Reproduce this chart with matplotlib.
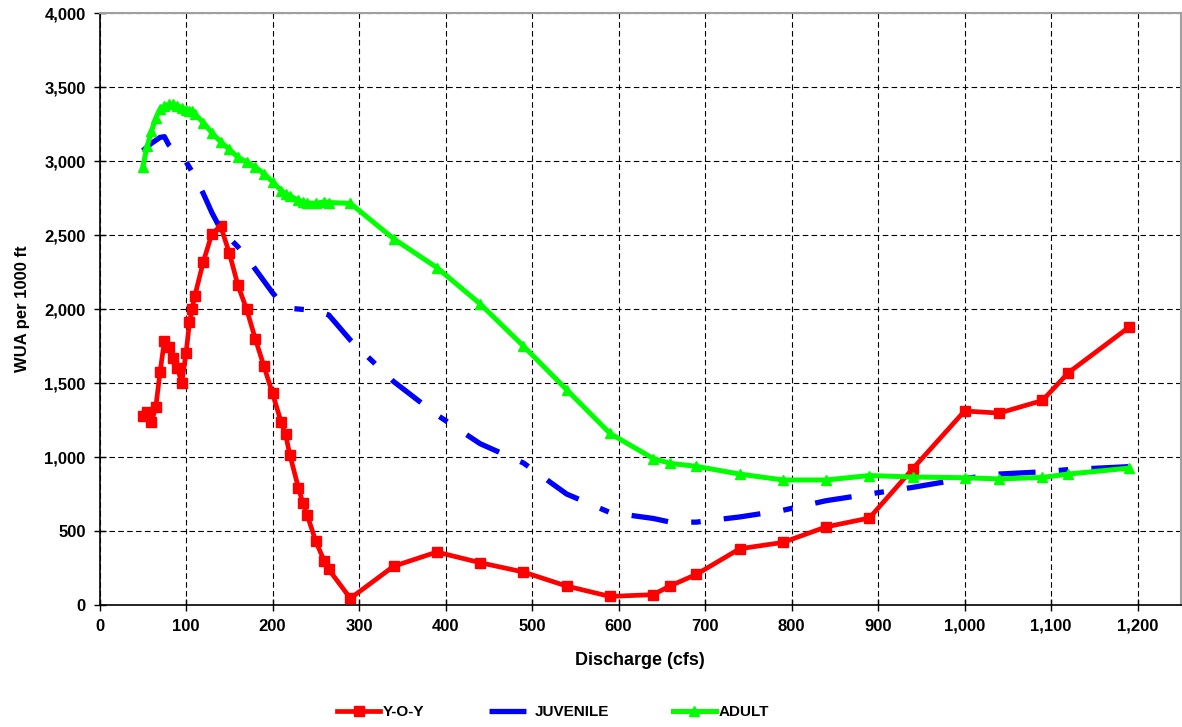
import matplotlib.pyplot as plt
from matplotlib.ticker import FuncFormatter, MultipleLocator

# ==========================================================
# DONNÉES
# ==========================================================

# Débit (cfs) pour Y-O-Y et ADULT
discharge = [50, 55, 60, 65, 70, 75, 80, 85, 90, 95, 100, 104, 107, 110, 120,
             130, 140, 150, 160, 170, 180, 190, 200, 210, 215, 220, 230, 235,
             240, 250, 260, 265, 290, 340, 390, 440, 490, 540, 590, 640, 660,
             690, 740, 790, 840, 890, 940, 1000, 1040, 1090, 1120, 1190]

wua_yoy = [1280, 1305, 1240, 1335, 1575, 1785, 1745, 1670, 1605, 1500, 1700,
           1910, 2000, 2085, 2320, 2510, 2560, 2380, 2160, 2000, 1800, 1615,
           1430, 1235, 1155, 1015, 790, 690, 610, 430, 295, 240, 45, 262, 358,
           286, 223, 128, 58, 70, 130, 207, 380, 423, 528, 588, 920, 1311,
           1297, 1382, 1570, 1877]

wua_adult = [2960, 3100, 3200, 3290, 3350, 3370, 3385, 3385, 3375, 3360, 3345,
             3340, 3335, 3320, 3260, 3190, 3130, 3080, 3025, 2995, 2960, 2915,
             2860, 2800, 2780, 2765, 2735, 2725, 2718, 2714, 2725, 2720, 2714,
             2475, 2280, 2035, 1750, 1455, 1160, 990, 957, 937, 885, 845, 845,
             875, 865, 860, 852, 862, 885, 925]

# Débit (cfs) et WUA pour JUVENILE
discharge_juv = [50, 60, 70, 75, 80, 90, 100, 110, 120, 130, 140, 150, 160,
                 170, 180, 190, 200, 210, 220, 240, 260, 265, 290, 340, 390,
                 440, 490, 540, 590, 640, 660, 690, 740, 790, 840, 890, 940,
                 1000, 1040, 1090, 1120, 1190]

wua_juv = [3070, 3120, 3160, 3165, 3110, 3050, 2995, 2900, 2780, 2650, 2540,
           2480, 2420, 2350, 2270, 2190, 2110, 2040, 2005, 1995, 1970, 1960,
           1790, 1510, 1285, 1090, 960, 750, 625, 585, 560, 560, 595, 640, 705,
           750, 795, 855, 885, 900, 915, 935]

# ==========================================================
# FIGURE
# ==========================================================

plt.rcParams['font.family'] = ['Liberation Sans', 'DejaVu Sans']
plt.rcParams['font.weight'] = 'bold'

fig = plt.figure(figsize=(11.82, 7.27), dpi=100)
ax = fig.add_axes([0.0842, 0.1678, 0.9148, 0.8142])

ax.plot(discharge, wua_yoy, color='#ff0000', marker='s', markersize=7,
        linewidth=3.4, label='Y-O-Y', zorder=3)
ax.plot(discharge_juv, wua_juv, color='#0000ff', linewidth=3.8,
        linestyle=(0, (7.0, 4.4, 1.8, 4.4)), dash_capstyle='butt',
        label='JUVENILE', zorder=4)
ax.plot(discharge, wua_adult, color='#00ff00', marker='^', markersize=7,
        linewidth=3.6, label='ADULT', zorder=5)

# Axes
ax.set_xlim(0, 1250)
ax.set_ylim(0, 4000)
ax.xaxis.set_major_locator(MultipleLocator(100))
ax.yaxis.set_major_locator(MultipleLocator(500))
ax.xaxis.set_major_formatter(FuncFormatter(lambda v, p: f'{v:,.0f}'))
ax.yaxis.set_major_formatter(FuncFormatter(lambda v, p: f'{v:,.0f}'))
ax.tick_params(axis='both', direction='inout', length=8, width=1,
               labelsize=12)
ax.tick_params(axis='x', pad=6)
ax.tick_params(axis='y', pad=6)
for lab in ax.get_xticklabels() + ax.get_yticklabels():
    lab.set_fontweight('bold')

ax.grid(True, color='black', linestyle=(0, (5, 3)), linewidth=0.8)
ax.set_axisbelow(True)

for side in ['top', 'right']:
    ax.spines[side].set_color('#a0a0a0')
    ax.spines[side].set_linewidth(1.5)
for side in ['left', 'bottom']:
    ax.spines[side].set_color('black')
    ax.spines[side].set_linewidth(1.2)

ax.set_xlabel('Discharge (cfs)', fontsize=13, fontweight='bold', labelpad=13)
ax.set_ylabel('WUA per 1000 ft', fontsize=12, fontweight='bold', labelpad=10)

# Légende en bas, sur une ligne
fig.legend(loc='center', bbox_to_anchor=(0.468, 0.02), ncol=3, frameon=False,
           handlelength=2.8, handletextpad=0.2, columnspacing=4.2,
           prop={'weight': 'bold', 'size': 11})

fig.savefig('out.png', dpi=100)
